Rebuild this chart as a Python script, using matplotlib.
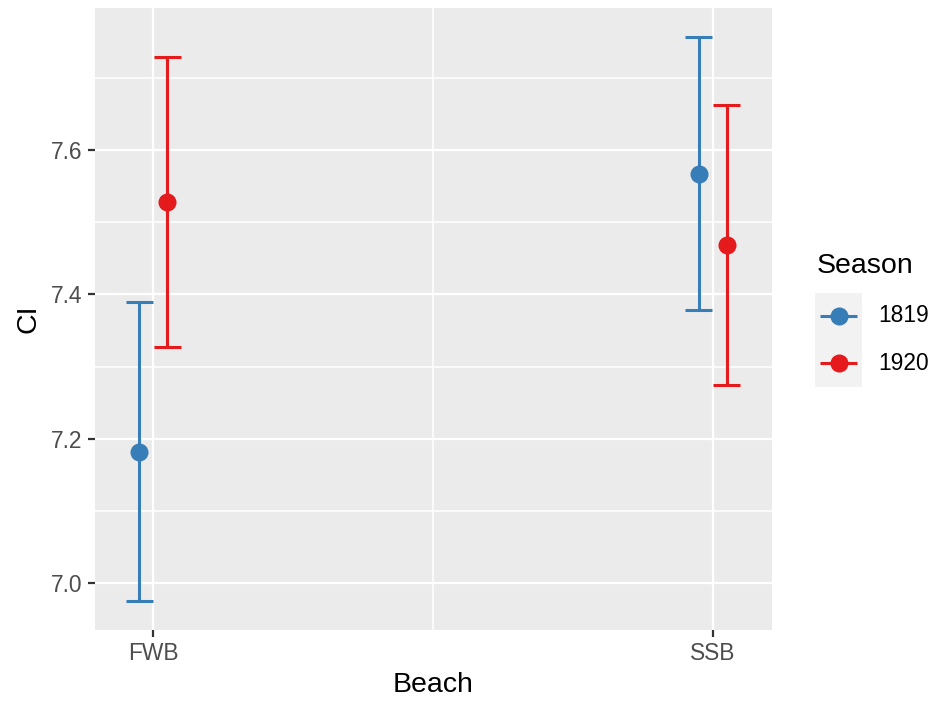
import matplotlib
matplotlib.use("Agg")
import matplotlib.pyplot as plt
from matplotlib.lines import Line2D
from matplotlib.patches import Rectangle
import numpy as np

plt.rcParams['font.family'] = ['Liberation Sans', 'DejaVu Sans']

beaches = ["FWB", "SSB"]
seasons = ["1819", "1920"]
colors = {"1819": "#377EB8", "1920": "#E41A1C"}
means = {"1819": [7.182, 7.566], "1920": [7.528, 7.469]}
lower = {"1819": [6.975, 7.378], "1920": [7.327, 7.275]}
upper = {"1819": [7.390, 7.757], "1920": [7.728, 7.662]}

W, H = 930, 702
fig = plt.figure(figsize=(W / 100, H / 100), dpi=100)
ax = fig.add_axes([95 / W, 1 - 630 / H, (772 - 95) / W, (630 - 8) / H])
ax.set_facecolor("#EBEBEB")
for s in ax.spines.values():
    s.set_visible(False)

xlim = (0.8958, 2.106)
ylim = (6.9354, 7.7965)
ax.set_xlim(*xlim)
ax.set_ylim(*ylim)

# grid
for y in [7.1, 7.3, 7.5, 7.7]:
    ax.axhline(y, color="white", lw=1.1, zorder=0)
for y in [7.0, 7.2, 7.4, 7.6]:
    ax.axhline(y, color="white", lw=1.6, zorder=0.5)
ax.axvline(1.5, color="white", lw=1.1, zorder=0)
for x in [1, 2]:
    ax.axvline(x, color="white", lw=1.6, zorder=0.5)

dodge = 0.025
capw = 0.024
xpos = np.arange(1, len(beaches) + 1)
for i, s in enumerate(seasons):
    xs = xpos + (-dodge if i == 0 else dodge)
    c = colors[s]
    ax.vlines(xs, lower[s], upper[s], color=c, lw=2.2, zorder=2, capstyle="butt")
    ax.hlines(lower[s], xs - capw, xs + capw, color=c, lw=2.2, zorder=2, capstyle="butt")
    ax.hlines(upper[s], xs - capw, xs + capw, color=c, lw=2.2, zorder=2, capstyle="butt")
    ax.plot(xs, means[s], "o", color=c, ms=13, mew=0, zorder=3)

ax.set_xticks(xpos)
ax.set_xticklabels(beaches)
ax.set_yticks([7.0, 7.2, 7.4, 7.6])
ax.set_yticklabels(["7.0", "7.2", "7.4", "7.6"])
ax.tick_params(axis="both", colors="#333333", length=5, width=1.6, labelsize=16.4,
               labelcolor="#4D4D4D", pad=4)
ax.set_xlabel("Beach", fontsize=20.5, color="black", labelpad=5)
ax.set_ylabel("CI", fontsize=20.5, color="black", labelpad=7)

# legend (manual, ggplot style)
fig.text(817 / W, 1 - 266 / H, "Season", fontsize=20.5, ha="left", va="center")
key_centers = [316, 363]
fig.patches.append(Rectangle((815 / W, 1 - 386.5 / H), 46.5 / W, 94 / H,
                             transform=fig.transFigure, facecolor="#F2F2F2",
                             edgecolor="none", zorder=0))
for s, yc in zip(seasons, key_centers):
    fy = 1 - yc / H
    fig.add_artist(Line2D([820 / W, 857 / W], [fy, fy], color=colors[s], lw=2.2,
                          solid_capstyle="butt", transform=fig.transFigure))
    fig.add_artist(Line2D([839 / W], [fy], marker="o", ms=13, mew=0,
                          color=colors[s], transform=fig.transFigure))
    fig.text(878 / W, fy, s, fontsize=16.4, ha="left", va="center", color="black")

fig.savefig("out.png", dpi=100)
